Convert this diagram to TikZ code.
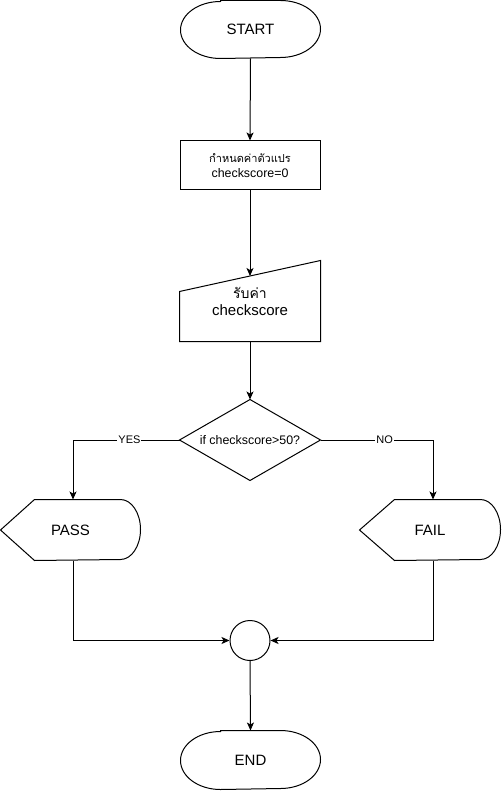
\documentclass[tikz,border=0pt]{standalone}
\usepackage{fontspec}
\setmainfont{Liberation Sans}
\newfontfamily\thaifont[Script=Thai]{Loma}
\usetikzlibrary{arrows.meta,calc}
\begin{document}
\begin{tikzpicture}[x=1pt,y=-1pt,line width=1pt,
  lbl/.style={inner sep=0pt,align=center},
  big/.style={font=\fontsize{15}{17}\selectfont},
  mid/.style={font=\fontsize{12.4}{15}\selectfont},
  arr/.style={-{Stealth[length=8pt,width=7pt,inset=2pt]}},
  edgelbl/.style={fill=white,inner sep=1pt,font=\fontsize{11}{13}\selectfont}]
\fill[white] (0,0) rectangle (501,791);
\useasboundingbox (0,0) rectangle (501,791);

% START
\node[lbl,big,minimum width=139pt,minimum height=57pt] (start) at (250.5,29.5) {START};
\draw ([xshift=40pt]start.north west) -- ([xshift=-40pt]start.north east)
  arc[start angle=90,end angle=-90,x radius=40pt,y radius=28.5pt]
  -- ([xshift=40pt]start.south west)
  arc[start angle=270,end angle=90,x radius=40pt,y radius=28.5pt] -- cycle;

% init box
\node[lbl,mid,draw,minimum width=140pt,minimum height=49pt] (init) at (250,165.5)
  {{\thaifont\fontsize{11}{14}\selectfont กำหนดค่าตัวแปร}\\checkscore=0};

% input
\node[lbl,big,minimum width=140pt,minimum height=80pt] (inp) at (250,301)
  {{\thaifont\fontsize{14}{16}\selectfont รับค่า}\\checkscore};
\draw ([yshift=-31pt]inp.north west) -- (inp.north east) -- (inp.south east) -- (inp.south west) -- cycle;
\coordinate (inptop) at ([yshift=-15.5pt]inp.north);

% decision
\node[lbl,mid,minimum width=140pt,minimum height=80pt] (dec) at (250,440) {if checkscore>50?};
\draw (dec.north) -- (dec.east) -- (dec.south) -- (dec.west) -- cycle;

% PASS
\node[lbl,big,minimum width=139pt,minimum height=60pt] (pass) at (70.5,530) {PASS};
\draw (pass.west) -- ([xshift=34pt]pass.north west) -- ([xshift=-20pt]pass.north east)
  arc[start angle=90,end angle=-90,x radius=20pt,y radius=30pt]
  -- ([xshift=34pt]pass.south west) -- cycle;

% FAIL
\node[lbl,big,minimum width=140pt,minimum height=60pt] (fail) at (430,530) {FAIL};
\draw (fail.west) -- ([xshift=35pt]fail.north west) -- ([xshift=-20pt]fail.north east)
  arc[start angle=90,end angle=-90,x radius=20pt,y radius=30pt]
  -- ([xshift=35pt]fail.south west) -- cycle;

% join circle
\node[draw,circle,minimum size=40pt,inner sep=0pt] (join) at (250,640.5) {};

% END
\node[lbl,big,minimum width=139pt,minimum height=58pt] (end) at (250.5,760) {END};
\draw ([xshift=40pt]end.north west) -- ([xshift=-40pt]end.north east)
  arc[start angle=90,end angle=-90,x radius=40pt,y radius=29pt]
  -- ([xshift=40pt]end.south west)
  arc[start angle=270,end angle=90,x radius=40pt,y radius=29pt] -- cycle;

% connectors
\coordinate (passin) at ([xshift=2.5pt]pass.north);
\coordinate (passout) at ([xshift=2.5pt]pass.south);
\coordinate (failin) at ([xshift=3pt]fail.north);
\coordinate (failout) at ([xshift=3pt]fail.south);

\draw[arr] (start.south) -- (init.north);
\draw[arr] (init.south) -- (inptop);
\draw[arr] (inp.south) -- (dec.north);
\draw[arr] (dec.west) -| node[edgelbl,pos=0.235] {YES} (passin);
\draw[arr] (dec.east) -| node[edgelbl,pos=0.285] {NO} (failin);
\draw[arr] (passout) |- (join.west);
\draw[arr] (failout) |- (join.east);
\draw[arr] (join.south) -- (end.north);
\end{tikzpicture}
\end{document}
